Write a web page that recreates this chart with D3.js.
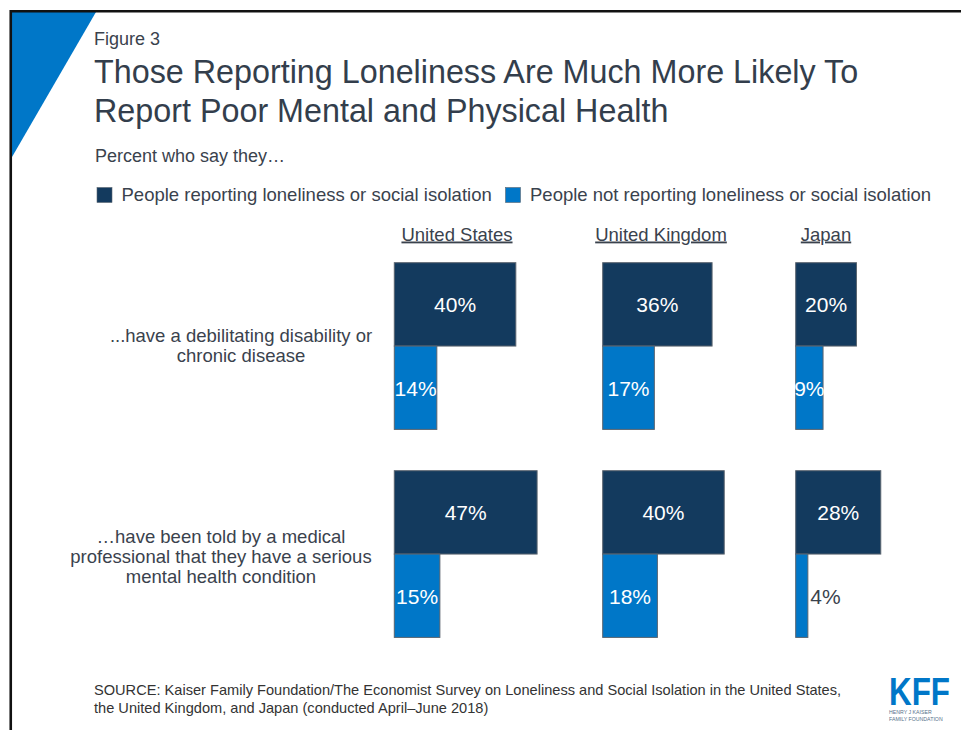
<!DOCTYPE html>
<html>
<head>
<meta charset="utf-8">
<script src="https://cdn.jsdelivr.net/npm/d3@7"></script>
<style>
  html, body { margin: 0; padding: 0; background: #fff; }
  svg { display: block; font-family: "Liberation Sans", Arial, sans-serif; }
</style>
</head>
<body>
<script>
// ---------- DATA ----------
const figureLabel = "Figure 3";
const titleLines = ["Those Reporting Loneliness Are Much More Likely To", "Report Poor Mental and Physical Health"];
const subtitle = "Percent who say they…";
const seriesNames = ["People reporting loneliness or social isolation", "People not reporting loneliness or social isolation"];
const countries = ["United States", "United Kingdom", "Japan"];
const rowKeys = ["disability", "mental"];
const rowLabels = [
  ["...have a debilitating disability or", "chronic disease"],
  ["…have been told by a medical", "professional that they have a serious", "mental health condition"]
];
const lonelyValues = [[40, 36, 20], [47, 40, 28]];      // [row][country]
const notLonelyValues = [[14, 17, 9], [15, 18, 4]];     // [row][country]
const sourceLines = [
  "SOURCE: Kaiser Family Foundation/The Economist Survey on Loneliness and Social Isolation in the United States,",
  "the United Kingdom, and Japan (conducted April–June 2018)"
];

// ---------- LAYOUT / STYLE ----------
const W = 961, H = 730;
const darkBlue = "#133a5e", lightBlue = "#0077c8", textCol = "#3a424d";
const colX = [394.3, 602.7, 795.7];
const headerX = [457, 661, 826];
const rowLabelX = [241, 221];

const svg = d3.select("body").append("svg").attr("width", W).attr("height", H);

// frame + corner triangle
svg.append("path").attr("d", "M12,12 L96,12 L12,157 Z").attr("fill", lightBlue);
svg.append("path").attr("d", `M10.75,${H} L10.75,11.25 L${W},11.25`)
  .attr("fill", "none").attr("stroke", "#111").attr("stroke-width", 2.6);

// headings
svg.append("text").attr("x", 94).attr("y", 45).attr("font-size", 18).attr("fill", textCol).text(figureLabel);
svg.selectAll("text.title").data(titleLines).join("text").attr("class", "title")
  .attr("x", 94).attr("y", (d, i) => 83 + i * 39).attr("font-size", 32.3).attr("fill", "#333e4c").text(d => d);
svg.append("text").attr("x", 95).attr("y", 162).attr("font-size", 18).attr("fill", textCol).text(subtitle);

// legend
const color = d3.scaleOrdinal().domain(seriesNames).range([darkBlue, lightBlue]);
const legX = [97, 505.5];
const leg = svg.selectAll("g.leg").data(seriesNames).join("g").attr("class", "leg")
  .attr("transform", (d, i) => `translate(${legX[i]},0)`);
leg.append("rect").attr("x", 0).attr("y", 187.5).attr("width", 15).attr("height", 15)
  .attr("fill", d => color(d)).attr("stroke", "#5b6670").attr("stroke-width", 0.6);
leg.append("text").attr("x", 24.5).attr("y", 201).attr("font-size", 18.5).attr("fill", textCol).text(d => d);

// scales
const x = d3.scaleLinear().domain([0, 100]).range([0, 303.8]);
const yRow = d3.scaleBand().domain(rowKeys).range([262.7, 637.4]).paddingInner(0.1986).paddingOuter(0);
const ySeries = d3.scaleBand().domain(seriesNames).range([0, yRow.bandwidth()]);

// country headers
const hdr = svg.selectAll("g.hdr").data(countries).join("g").attr("class", "hdr");
hdr.append("text").attr("x", (d, i) => headerX[i]).attr("y", 240.5).attr("text-anchor", "middle")
  .attr("font-size", 18.5).attr("fill", textCol).attr("text-decoration", "underline").text(d => d);

// row labels
rowKeys.forEach((rk, r) => {
  const lines = rowLabels[r];
  const startY = (r === 0 ? 341.5 : 542.5);
  svg.selectAll(null).data(lines).join("text")
    .attr("x", rowLabelX[r]).attr("y", (d, i) => startY + i * 20.2)
    .attr("text-anchor", "middle").attr("font-size", 18.5).attr("fill", textCol).text(d => d);
});

// bars
const cells = [];
rowKeys.forEach((rk, r) => {
  countries.forEach((c, ci) => {
    cells.push({ row: rk, ci, series: seriesNames[0], value: lonelyValues[r][ci] });
    cells.push({ row: rk, ci, series: seriesNames[1], value: notLonelyValues[r][ci] });
  });
});

const g = svg.append("g");
g.selectAll("rect.bar").data(cells).join("rect").attr("class", "bar")
  .attr("x", d => colX[d.ci])
  .attr("y", d => yRow(d.row) + ySeries(d.series))
  .attr("width", d => x(d.value))
  .attr("height", ySeries.bandwidth())
  .attr("fill", d => color(d.series))
  .attr("stroke", "#59636e").attr("stroke-width", 1);

g.selectAll("text.val").data(cells).join("text").attr("class", "val")
  .attr("x", d => d.value < 5 ? colX[d.ci] + x(d.value) + 2.5 : colX[d.ci] + x(d.value) / 2)
  .attr("y", d => yRow(d.row) + ySeries(d.series) + ySeries.bandwidth() / 2 + 8)
  .attr("text-anchor", d => d.value < 5 ? "start" : "middle")
  .attr("font-size", 21)
  .attr("fill", d => d.value < 5 ? textCol : "#fff")
  .text(d => d.value + "%");

// source
svg.selectAll("text.src").data(sourceLines).join("text").attr("class", "src")
  .attr("x", 94).attr("y", (d, i) => 695 + i * 18).attr("font-size", 14.6).attr("fill", "#333").text(d => d);

// KFF logo
const logo = svg.append("g");
logo.append("text").attr("transform", "translate(889,705) scale(0.805,1)")
  .attr("font-size", 39).attr("font-weight", "bold").attr("fill", lightBlue).text("KFF");
logo.append("text").attr("transform", "translate(889,713.5) scale(0.95,1)")
  .attr("font-size", 5.5).attr("fill", "#56718a").text("HENRY J KAISER");
logo.append("text").attr("transform", "translate(889,720.5) scale(0.95,1)")
  .attr("font-size", 5.5).attr("fill", "#56718a").text("FAMILY FOUNDATION");
</script>
</body>
</html>
